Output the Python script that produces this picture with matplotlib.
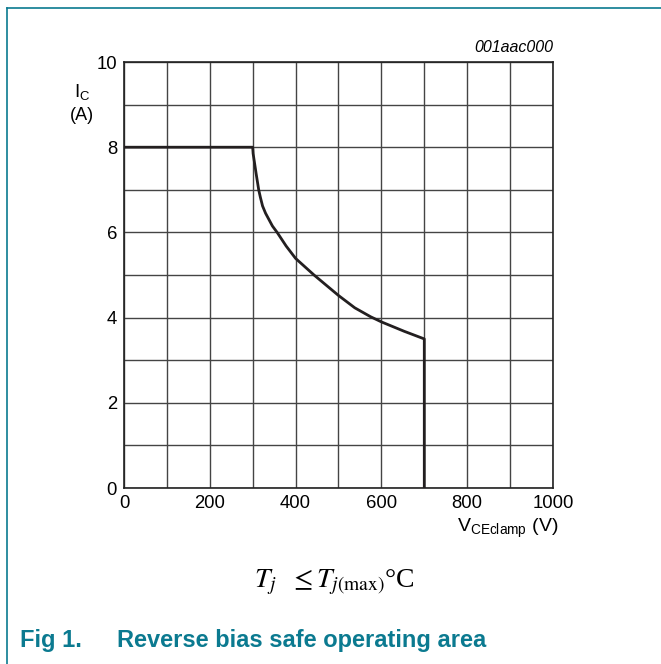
import matplotlib
matplotlib.use('Agg')
import matplotlib.pyplot as plt
from matplotlib.lines import Line2D

# RBSOA boundary
v_ce = [0, 300, 301, 304, 308, 314, 318, 323, 330, 338, 346, 357, 378, 400, 443,
        500, 538, 575, 600, 653, 700, 700]
i_c = [8.0, 8.0, 7.85, 7.65, 7.38, 7.0, 6.82, 6.62, 6.45, 6.3, 6.15, 6.0, 5.68, 5.39,
       5.0, 4.52, 4.23, 4.02, 3.9, 3.68, 3.5, 0.0]

x_ticks = [0, 200, 400, 600, 800, 1000]
y_ticks = [0, 2, 4, 6, 8, 10]

teal = '#0b7a90'

plt.rcParams['font.family'] = ['Liberation Sans', 'DejaVu Sans']
fig = plt.figure(figsize=(6.61, 6.64), dpi=100)
ax = fig.add_axes([0.1876, 0.265, 0.649, 0.6416])

ax.plot(v_ce, i_c, color='#231f20', lw=2, solid_joinstyle='round', zorder=3)
ax.set_xlim(0, 1000)
ax.set_ylim(0, 10)
ax.set_xticks(range(0, 1001, 100))
ax.set_xticklabels([str(v) if v in x_ticks else '' for v in range(0, 1001, 100)])
ax.set_yticks(range(0, 11, 1))
ax.set_yticklabels([str(v) if v in y_ticks else '' for v in range(0, 11)])
ax.tick_params(length=0, labelsize=13.3, pad=5)
ax.grid(True, color='#444444', lw=1)
for s in ax.spines.values():
    s.set_color('#222222')
    s.set_linewidth(1.2)

fig.text(553 / 661, 1 - 48 / 664, '001aac000', ha='right', va='center',
         style='italic', fontsize=11.5)
fig.text(82 / 661, 1 - 93 / 664, r'I$_\mathregular{C}$', ha='center', va='center', fontsize=13.5)
fig.text(82 / 661, 1 - 115 / 664, '(A)', ha='center', va='center', fontsize=13)
fig.text(508 / 661, 1 - 528 / 664, r'V$_\mathregular{CEclamp}$ (V)', ha='center',
         va='center', fontsize=14)
fig.text(334 / 661, 1 - 582 / 664, r'$T_j\ \ \leq T_{j\mathrm{(max)}}$°C', ha='center',
         va='center', fontsize=20, family=['Liberation Serif', 'DejaVu Serif'],
         math_fontfamily='stix')
fig.text(20 / 661, 1 - 641 / 664, 'Fig 1.', ha='left', va='center', fontsize=17,
         fontweight='bold', color=teal)
fig.text(117 / 661, 1 - 641 / 664, 'Reverse bias safe operating area', ha='left',
         va='center', fontsize=17, fontweight='bold', color=teal)

# frame lines of the datasheet box
fig.add_artist(Line2D([7 / 661, 1], [1 - 8 / 664] * 2, color=teal, lw=1.2,
                      transform=fig.transFigure))
fig.add_artist(Line2D([7 / 661] * 2, [0, 1 - 8 / 664], color=teal, lw=1.2,
                      transform=fig.transFigure))

fig.savefig('out.png', dpi=100)
plt.close(fig)
